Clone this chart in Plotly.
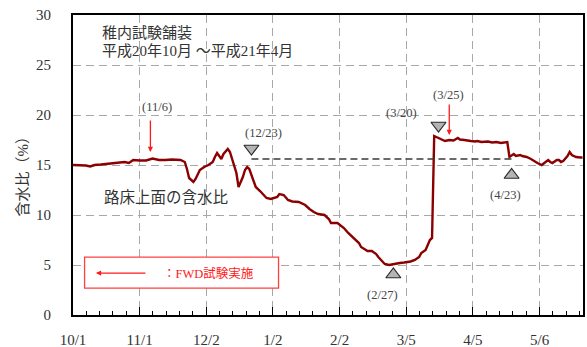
import plotly.graph_objects as go

# Moisture content of the subgrade surface, Wakkanai test pavement (Oct 2008 - May 2009)
dates = [
    "2008-10-01", "2008-10-04", "2008-10-07", "2008-10-09", "2008-10-11", "2008-10-14",
    "2008-10-17", "2008-10-20", "2008-10-23", "2008-10-25", "2008-10-27", "2008-10-29",
    "2008-11-01", "2008-11-04", "2008-11-07", "2008-11-10", "2008-11-13", "2008-11-16",
    "2008-11-20", "2008-11-22", "2008-11-23", "2008-11-24", "2008-11-26", "2008-11-27",
    "2008-11-29", "2008-12-01", "2008-12-03", "2008-12-05", "2008-12-06", "2008-12-07",
    "2008-12-08", "2008-12-09", "2008-12-10", "2008-12-12", "2008-12-13", "2008-12-14",
    "2008-12-16", "2008-12-17", "2008-12-19", "2008-12-20", "2008-12-21", "2008-12-22",
    "2008-12-23", "2008-12-25", "2008-12-27", "2008-12-28", "2008-12-30", "2009-01-01",
    "2009-01-04", "2009-01-05", "2009-01-07", "2009-01-09", "2009-01-11", "2009-01-14",
    "2009-01-17", "2009-01-19", "2009-01-21", "2009-01-23", "2009-01-26", "2009-01-28",
    "2009-01-29", "2009-02-01", "2009-02-04", "2009-02-06", "2009-02-08", "2009-02-11",
    "2009-02-12", "2009-02-15", "2009-02-17", "2009-02-19", "2009-02-20", "2009-02-22",
    "2009-02-23", "2009-02-25", "2009-02-28", "2009-03-02", "2009-03-04", "2009-03-07",
    "2009-03-09", "2009-03-11", "2009-03-12", "2009-03-14", "2009-03-15", "2009-03-16",
    "2009-03-17", "2009-03-18", "2009-03-19", "2009-03-21", "2009-03-22", "2009-03-23",
    "2009-03-25", "2009-03-27", "2009-03-29", "2009-03-30", "2009-04-01", "2009-04-02",
    "2009-04-04", "2009-04-06", "2009-04-07", "2009-04-09", "2009-04-10", "2009-04-12",
    "2009-04-14", "2009-04-16", "2009-04-18", "2009-04-19", "2009-04-20", "2009-04-21",
    "2009-04-22", "2009-04-23", "2009-04-24", "2009-04-25", "2009-04-27", "2009-04-28",
    "2009-04-30", "2009-05-02", "2009-05-04", "2009-05-05", "2009-05-07", "2009-05-09",
    "2009-05-10", "2009-05-11", "2009-05-12", "2009-05-14", "2009-05-15", "2009-05-16",
    "2009-05-17", "2009-05-19", "2009-05-20", "2009-05-21", "2009-05-23", "2009-05-25",
    "2009-05-26",
]
moisture = [
    15.0, 15.0, 14.95, 14.85, 15.0, 15.05,
    15.1, 15.15, 15.2, 15.3, 15.2, 15.5,
    15.45, 15.45, 15.65, 15.5, 15.5, 15.55,
    15.5, 15.3, 14.6, 13.7, 13.3, 13.6,
    14.5, 14.8, 15.0, 15.3, 15.8, 16.2,
    15.9, 15.6, 16.1, 16.6, 16.3, 15.6,
    14.2, 12.8, 13.8, 14.5, 14.8, 14.6,
    14.0, 12.8, 12.4, 12.2, 11.7, 11.6,
    11.8, 12.1, 12.0, 11.5, 11.35, 11.3,
    11.0, 10.6, 10.3, 10.1, 10.0, 9.6,
    9.2, 9.2, 8.7, 8.2, 7.8, 7.2,
    6.8, 6.4, 6.4, 6.1, 5.8, 5.4,
    5.1, 5.0, 5.15, 5.2, 5.25, 5.35,
    5.5, 5.8, 6.2, 6.5, 7.0, 7.5,
    7.7, 17.9, 17.8, 17.6, 17.5, 17.4,
    17.5, 17.45, 17.7, 17.55, 17.5, 17.45,
    17.4, 17.35, 17.4, 17.3, 17.3, 17.35,
    17.25, 17.3, 17.2, 17.25, 17.3, 17.3,
    15.8, 16.0, 16.1, 15.9, 16.0, 15.9,
    15.8, 15.6, 15.3, 15.2, 15.0, 15.3,
    15.5, 15.3, 15.2, 15.5, 15.5, 15.3,
    15.4, 15.9, 16.3, 16.0, 15.8, 15.75,
    15.75,
]

# Axis ticks
tick_dates = ["2008-10-01", "2008-11-01", "2008-12-02", "2009-01-02",
              "2009-02-02", "2009-03-05", "2009-04-05", "2009-05-06"]
tick_labels = ["10/1", "11/1", "12/2", "1/2", "2/2", "3/5", "4/5", "5/6"]
x_range = ["2008-10-01", "2009-05-26 05:00"]

# FWD test dates (red arrows)
fwd_dates = ["2008-11-06", "2009-03-25"]
fwd_labels = ["(11/6)", "(3/25)"]
fwd_arrow_top = [19.6, 21.2]
fwd_arrow_tip = [16.3, 18.0]
fwd_label_y = [20.8, 22.0]
fwd_label_shift = [7, -1]

# Event markers (triangles)
down_dates = ["2008-12-23", "2009-03-20"]
down_labels = ["(12/23)", "(3/20)"]
down_y = [16.65, 18.95]
down_label_y = [18.2, 20.2]
down_label_shift = [12, -37]

up_dates = ["2009-02-27", "2009-04-23"]
up_labels = ["(2/27)", "(4/23)"]
up_y = [4.05, 14.0]
up_label_y = [2.0, 12.0]
up_label_shift = [-11, -6]

# Reference level between 12/23 and 4/23
ref_level = 15.6

SERIF = "Liberation Serif, Noto Sans CJK JP"
CJK = "Liberation Serif, Noto Sans CJK JP"
DARK_RED = "#8B0000"
RED = "#FF1A1A"
TEXT = "#333333"
LABEL = "#444444"

fig = go.Figure()

fig.add_trace(go.Scatter(
    x=dates, y=moisture, mode="lines",
    line=dict(color=DARK_RED, width=2.4),
    hoverinfo="skip", showlegend=False,
))

fig.add_trace(go.Scatter(
    x=down_dates, y=down_y, mode="markers",
    marker=dict(symbol="triangle-down", size=13, color="#B4B4B4",
                line=dict(color="#2a2a2a", width=1.2)),
    showlegend=False, hoverinfo="skip",
))
fig.add_trace(go.Scatter(
    x=up_dates, y=up_y, mode="markers",
    marker=dict(symbol="triangle-up", size=13, color="#B4B4B4",
                line=dict(color="#2a2a2a", width=1.2)),
    showlegend=False, hoverinfo="skip",
))

# Dashed reference level
fig.add_shape(type="line", xref="x", yref="y",
              x0=down_dates[0], x1=up_dates[1], y0=ref_level, y1=ref_level,
              line=dict(color="#3a3a3a", width=1.6, dash="7px,4px"), layer="above")

annotations = []

# FWD arrows and labels
for d, lab, top, tip, ly, sh in zip(fwd_dates, fwd_labels, fwd_arrow_top,
                                    fwd_arrow_tip, fwd_label_y, fwd_label_shift):
    annotations.append(dict(
        x=d, y=tip, ax=d, ay=top, xref="x", yref="y", axref="x", ayref="y",
        text="", showarrow=True, arrowhead=2, arrowsize=0.8, arrowwidth=1.3,
        arrowcolor=RED,
    ))
    annotations.append(dict(
        x=d, y=ly, xref="x", yref="y", text=lab, showarrow=False, xshift=sh,
        font=dict(family=SERIF, size=12.5, color=LABEL),
    ))

for d, lab, ly, sh in zip(down_dates + up_dates, down_labels + up_labels,
                          down_label_y + up_label_y, down_label_shift + up_label_shift):
    annotations.append(dict(
        x=d, y=ly, xref="x", yref="y", text=lab, showarrow=False, xshift=sh,
        font=dict(family=SERIF, size=12.5, color=LABEL),
    ))

# Titles inside the plot area
annotations += [
    dict(x=0.053, y=0.9415, xref="paper", yref="paper", xanchor="left", yanchor="middle",
         text="稚内試験舗装", showarrow=False,
         font=dict(family=CJK, size=15, color=TEXT)),
    dict(x=0.053, y=0.879, xref="paper", yref="paper", xanchor="left", yanchor="middle",
         text="平成20年10月 ～平成21年4月", showarrow=False,
         font=dict(family=CJK, size=15, color=TEXT)),
    dict(x=0.056, y=0.3925, xref="paper", yref="paper", xanchor="left", yanchor="middle",
         text="路床上面の含水比", showarrow=False,
         font=dict(family=CJK, size=15.5, color=TEXT)),
]

# Key box for the FWD arrow
fig.add_shape(type="rect", xref="paper", yref="paper",
              x0=0.0227, x1=0.403, y0=0.0898, y1=0.193,
              line=dict(color="#FF4040", width=1.3), fillcolor="white", layer="above")
annotations += [
    dict(x=0.045, y=0.1397, xref="paper", yref="paper", ax=51, ay=0,
         text="", showarrow=True, arrowhead=2, arrowsize=0.8, arrowwidth=1.3,
         arrowcolor=RED),
    dict(x=0.172, y=0.1397, xref="paper", yref="paper", xanchor="left", yanchor="middle",
         text="：FWD試験実施", showarrow=False,
         font=dict(family=CJK, size=12.5, color=RED)),
]

# Y axis title
annotations.append(dict(
    x=-0.1, y=0.475, xref="paper", yref="paper", xanchor="center", yanchor="middle",
    text="含水比（%）", textangle=-90,
    showarrow=False, font=dict(family=CJK, size=15, color=TEXT),
))

fig.update_layout(
    width=587, height=347,
    margin=dict(l=73, r=4, t=15, b=32, autoexpand=False),
    paper_bgcolor="white", plot_bgcolor="white",
    annotations=annotations,
    showlegend=False,
)

fig.update_xaxes(
    type="date", range=x_range, automargin=False,
    tickmode="array", tickvals=tick_dates, ticktext=tick_labels,
    ticks="inside", ticklen=8, tickwidth=1.3, tickcolor="black",
    ticklabelstandoff=10,
    tickfont=dict(family=SERIF, size=15, color=TEXT),
    showgrid=True, gridcolor="#A8A8A8", gridwidth=1.3, griddash="8px,5px",
    showline=True, linecolor="black", linewidth=2, mirror=True,
    minor=dict(ticks="inside", ticklen=4, tickwidth=1.2, tickcolor="black",
               tick0="2008-10-01", dtick=6.2 * 86400000, showgrid=False),
)
fig.update_yaxes(
    range=[0, 30], tickmode="linear", tick0=0, dtick=5, automargin=False,
    ticks="", ticklabelstandoff=17,
    tickfont=dict(family=SERIF, size=15, color=TEXT),
    showgrid=True, gridcolor="#A8A8A8", gridwidth=1.3, griddash="8px,5px",
    zeroline=False,
    showline=True, linecolor="black", linewidth=2, mirror=True,
)

fig.write_html("out.html")
